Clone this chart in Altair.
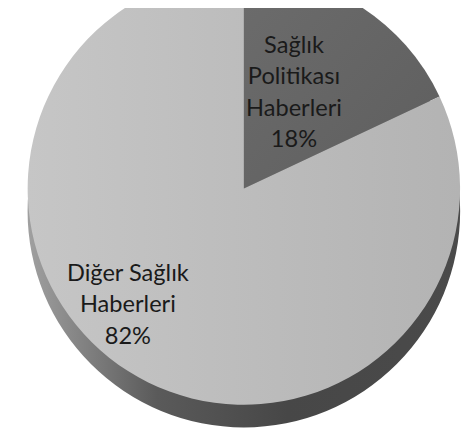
import altair as alt
import pandas as pd

categories = ["Sağlık\nPolitikası\nHaberleri", "Diğer Sağlık\nHaberleri"]
values = [18, 82]
order = [0, 1]

df = pd.DataFrame({"category": categories, "value": values, "order": order})
df["label"] = df["category"] + "\n" + df["value"].astype(str) + "%"

CX, CY, R, DEPTH = 240, 180, 220, 23

side = alt.Chart(pd.DataFrame({"v": [1]})).mark_arc(
    radius=R,
    color=alt.LinearGradient(
        gradient="linear", x1=0, x2=1, y1=0, y2=0,
        stops=[alt.GradientStop(color="#a0a0a0", offset=0),
               alt.GradientStop(color="#5a5a5a", offset=0.3),
               alt.GradientStop(color="#474747", offset=0.6),
               alt.GradientStop(color="#4a4a4a", offset=1)]),
).encode(theta=alt.Theta("v:Q"), x=alt.value(CX), y=alt.value(CY + DEPTH))

dark_fill = alt.LinearGradient(
    gradient="linear", x1=0, x2=1, y1=0, y2=1,
    stops=[alt.GradientStop(color="#6c6c6c", offset=0),
           alt.GradientStop(color="#5e5e5e", offset=1)])
light_fill = alt.LinearGradient(
    gradient="linear", x1=0, x2=1, y1=0, y2=0,
    stops=[alt.GradientStop(color="#c6c6c6", offset=0),
           alt.GradientStop(color="#b3b3b3", offset=1)])


def slice_layer(idx, fill):
    return alt.Chart(df).transform_stack(
        stack="value", groupby=[], as_=["v0", "v1"], sort=[alt.SortField("order")]
    ).transform_filter(alt.datum.order == idx).mark_arc(radius=R, color=fill).encode(
        theta=alt.Theta("v0:Q", scale=alt.Scale(domain=[0, 100])),
        theta2="v1:Q", x=alt.value(CX), y=alt.value(CY))


dark = slice_layer(0, dark_fill)
light = slice_layer(1, light_fill)

txt_style = dict(font="Lato", fontSize=24, lineHeight=32, color="#1a1a1a",
                 align="center", baseline="middle", lineBreak="\n")
label_dark = alt.Chart(df).transform_filter(alt.datum.order == 0).mark_text(**txt_style).encode(
    text="label:N", x=alt.value(291), y=alt.value(35))
label_light = alt.Chart(df).transform_filter(alt.datum.order == 1).mark_text(**txt_style).encode(
    text="label:N", x=alt.value(122), y=alt.value(267))

chart = alt.layer(side, dark, light, label_dark, label_light).properties(
    width=464, height=426, autosize=alt.AutoSizeParams(type="none"), padding=0
).configure_view(stroke=None).resolve_scale(theta="independent")

chart.save("out.html", embed_options={"renderer": "svg", "actions": False})
